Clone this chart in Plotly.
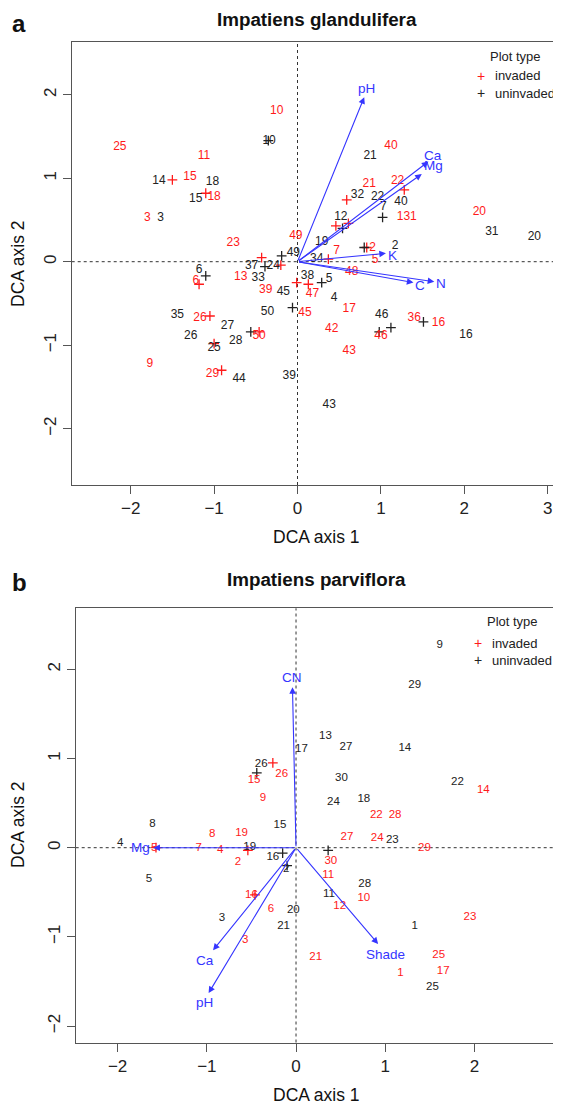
import plotly.graph_objects as go

# The page body adds an 8px margin; the figure is sized so that it fills the window.
OFF = 8
W, H = 561 - OFF, 1108 - OFF

# ---------------- Panel a: Impatiens glandulifera ----------------
a_red_labels = [
    ("10", -0.25, 1.81), ("25", -2.13, 1.37), ("11", -1.12, 1.26), ("15", -1.29, 1.01),
    ("18", -1.00, 0.77), ("3", -1.80, 0.52), ("23", -0.77, 0.23), ("49", -0.02, 0.31),
    ("40", 1.12, 1.39), ("21", 0.86, 0.93), ("22", 1.20, 0.97), ("1", 1.23, 0.54),
    ("31", 1.35, 0.54), ("20", 2.18, 0.60), ("7", 0.47, 0.13), ("2", 0.90, 0.16),
    ("5", 0.93, 0.02), ("48", 0.65, -0.12), ("13", -0.68, -0.18), ("6", -1.22, -0.23),
    ("39", -0.38, -0.34), ("47", 0.18, -0.39), ("45", 0.09, -0.61), ("17", 0.62, -0.57),
    ("42", 0.41, -0.80), ("46", 1.00, -0.89), ("36", 1.40, -0.68), ("16", 1.69, -0.73),
    ("43", 0.62, -1.07), ("26", -1.17, -0.68), ("50", -0.46, -0.89), ("9", -1.77, -1.23),
    ("29", -1.02, -1.34),
]
a_black_labels = [
    ("10", -0.34, 1.45), ("14", -1.66, 0.97), ("18", -1.02, 0.95), ("15", -1.22, 0.75),
    ("3", -1.64, 0.52), ("49", -0.05, 0.11), ("21", 0.87, 1.26), ("32", 0.72, 0.80),
    ("22", 0.96, 0.77), ("7", 1.03, 0.66), ("40", 1.24, 0.72), ("12", 0.52, 0.54),
    ("31", 2.33, 0.35), ("20", 2.84, 0.30), ("19", 0.29, 0.24), ("2", 1.17, 0.19),
    ("34", 0.23, 0.03), ("37", -0.55, -0.05), ("24", -0.29, -0.05), ("33", -0.47, -0.19),
    ("6", -1.18, -0.10), ("38", 0.12, -0.17), ("5", 0.38, -0.21), ("45", -0.17, -0.36),
    ("4", 0.44, -0.44), ("50", -0.36, -0.60), ("46", 1.01, -0.64), ("16", 2.02, -0.88),
    ("35", -1.44, -0.64), ("27", -0.84, -0.77), ("26", -1.28, -0.89), ("25", -1.00, -1.03),
    ("28", -0.74, -0.95), ("44", -0.70, -1.41), ("39", -0.10, -1.37), ("43", 0.38, -1.72),
]
a_red_pts_x = [-1.50, -1.10, -0.43, -0.20, 1.28, 0.59, 0.46, 0.61, 0.83, 0.37, -1.18, -0.01, 0.13, -1.05, -1.00, -0.46, -0.91]
a_red_pts_y = [0.98, 0.82, 0.05, -0.04, 0.86, 0.74, 0.43, 0.46, 0.17, 0.03, -0.27, -0.25, -0.27, -0.65, -0.98, -0.84, -1.30]
a_black_pts_x = [-0.35, -0.19, -0.39, 1.02, 0.54, 0.80, -1.10, 0.29, -0.06, 1.12, 0.98, 1.51, -0.56]
a_black_pts_y = [1.45, 0.07, -0.06, 0.53, 0.40, 0.17, -0.17, -0.25, -0.55, -0.79, -0.84, -0.72, -0.84]
# vector name, tip x, tip y, label x, label y
a_vectors = [
    ("pH", 0.80, 1.97, 0.83, 2.08), ("Ca", 1.57, 1.20, 1.62, 1.27),
    ("Mg", 1.49, 1.05, 1.63, 1.15), ("K", 1.06, 0.10, 1.14, 0.08),
    ("C", 1.39, -0.25, 1.47, -0.29), ("N", 1.64, -0.24, 1.72, -0.26),
]
a_xticks = [-2, -1, 0, 1, 2, 3]
a_yticks = [-2, -1, 0, 1, 2]

# ---------------- Panel b: Impatiens parviflora ----------------
b_red_labels = [
    ("26", -0.16, 0.83), ("15", -0.47, 0.76), ("9", -0.37, 0.56), ("14", 2.10, 0.64),
    ("22", 0.90, 0.36), ("28", 1.11, 0.36), ("27", 0.57, 0.12), ("24", 0.91, 0.11),
    ("29", 1.44, 0.00), ("30", 0.39, -0.15), ("11", 0.36, -0.31), ("10", 0.76, -0.56),
    ("12", 0.49, -0.66), ("6", -0.28, -0.69), ("23", 1.95, -0.78), ("21", 0.22, -1.23),
    ("25", 1.60, -1.21), ("1", 1.17, -1.41), ("17", 1.65, -1.38), ("5", -1.59, 0.00),
    ("8", -0.94, 0.15), ("19", -0.61, 0.16), ("7", -1.09, 0.00), ("4", -0.85, -0.03),
    ("2", -0.65, -0.16), ("16", -0.50, -0.53), ("3", -0.57, -1.04),
]
b_black_labels = [
    ("9", 1.61, 2.27), ("29", 1.33, 1.82), ("13", 0.33, 1.25), ("17", 0.06, 1.11),
    ("27", 0.56, 1.13), ("14", 1.22, 1.12), ("26", -0.39, 0.94), ("30", 0.51, 0.78),
    ("22", 1.81, 0.74), ("24", 0.42, 0.51), ("18", 0.76, 0.55), ("23", 1.08, 0.09),
    ("15", -0.18, 0.25), ("16", -0.26, -0.11), ("2", -0.11, -0.24), ("28", 0.77, -0.41),
    ("11", 0.37, -0.52), ("20", -0.03, -0.70), ("21", -0.14, -0.88), ("1", 1.33, -0.88),
    ("25", 1.53, -1.56), ("8", -1.61, 0.26), ("4", -1.97, 0.05), ("5", -1.65, -0.35),
    ("19", -0.52, 0.01), ("3", -0.83, -0.79),
]
b_red_pts_x = [-0.26, -0.54, -0.46, -1.57]
b_red_pts_y = [0.95, -0.03, -0.53, 0.00]
b_black_pts_x = [-0.44, 0.36, -0.15, -0.10]
b_black_pts_y = [0.84, -0.03, -0.06, -0.20]
b_vectors = [
    ("CN", -0.04, 1.80, -0.04, 1.91), ("Mg", -1.60, 0.00, -1.74, 0.00),
    ("Ca", -0.93, -1.15, -1.02, -1.26), ("pH", -0.98, -1.63, -1.03, -1.74),
    ("Shade", 0.92, -1.08, 1.00, -1.20),
]
b_xticks = [-2, -1, 0, 1, 2]
b_yticks = [-2, -1, 0, 1, 2]

legend_title = "Plot type"
legend_names = ["invaded", "uninvaded"]

RED = "#ff1a1a"
BLACK = "#222222"
BLUE = "#3535ff"
AXC = "#555555"
FONT = "Liberation Sans, Arial, sans-serif"


def px_x(p):
    return (p - OFF) / W


def px_y(p):
    return 1 - (p - OFF) / H


fig = go.Figure()


def add_panel(xa, ya, red_labels, black_labels, rx, ry, bx, by, vectors, lab_size):
    fig.add_trace(go.Scatter(
        x=rx, y=ry, mode="markers", name=legend_names[0], xaxis=xa, yaxis=ya, showlegend=False,
        marker=dict(symbol="cross-thin", size=7, line=dict(color=RED, width=1.3)),
        hoverinfo="skip"))
    fig.add_trace(go.Scatter(
        x=bx, y=by, mode="markers", name=legend_names[1], xaxis=xa, yaxis=ya, showlegend=False,
        marker=dict(symbol="cross-thin", size=7, line=dict(color=BLACK, width=1.3)),
        hoverinfo="skip"))
    fig.add_trace(go.Scatter(
        x=[v[1] for v in red_labels], y=[v[2] for v in red_labels],
        text=[v[0] for v in red_labels], mode="text", xaxis=xa, yaxis=ya,
        textfont=dict(color=RED, size=lab_size, family=FONT), showlegend=False,
        hoverinfo="skip"))
    fig.add_trace(go.Scatter(
        x=[v[1] for v in black_labels], y=[v[2] for v in black_labels],
        text=[v[0] for v in black_labels], mode="text", xaxis=xa, yaxis=ya,
        textfont=dict(color=BLACK, size=lab_size, family=FONT), showlegend=False,
        hoverinfo="skip"))
    # dotted zero lines
    fig.add_shape(type="line", xref=xa, yref=ya + " domain", x0=0, x1=0, y0=0, y1=1,
                  line=dict(color="#333333", width=1, dash="dot"), layer="below")
    fig.add_shape(type="line", xref=xa + " domain", yref=ya, x0=0, x1=1, y0=0, y1=0,
                  line=dict(color="#333333", width=1, dash="dot"), layer="below")
    # vectors
    for name, tx, ty, lx, ly in vectors:
        fig.add_annotation(x=tx, y=ty, ax=0, ay=0, xref=xa, yref=ya, axref=xa, ayref=ya,
                           text="", showarrow=True, arrowhead=2, arrowsize=1.2,
                           arrowwidth=1.1, arrowcolor=BLUE, standoff=0, startstandoff=0)
        fig.add_annotation(x=lx, y=ly, xref=xa, yref=ya, text=name, showarrow=False,
                           font=dict(color=BLUE, size=13.5, family=FONT))


add_panel("x", "y", a_red_labels, a_black_labels, a_red_pts_x, a_red_pts_y,
          a_black_pts_x, a_black_pts_y, a_vectors, 12)
add_panel("x2", "y2", b_red_labels, b_black_labels, b_red_pts_x, b_red_pts_y,
          b_black_pts_x, b_black_pts_y, b_vectors, 11.5)

axis_common = dict(showgrid=False, zeroline=False, showline=True, mirror=True,
                   linecolor=AXC, linewidth=1, ticks="outside", ticklen=8, tickcolor=AXC,
                   tickfont=dict(size=17, color=BLACK, family=FONT))

fig.update_layout(
    width=W, height=H, margin=dict(l=0, r=0, t=0, b=0),
    paper_bgcolor="white", plot_bgcolor="white",
    font=dict(family=FONT, color=BLACK), showlegend=False,
    xaxis=dict(domain=[px_x(71.7), px_x(557)], range=[-2.707, 3.111], tickvals=a_xticks,
               anchor="y", **axis_common),
    yaxis=dict(domain=[px_y(485), px_y(42)], range=[-2.674, 2.631], tickvals=a_yticks,
               tickangle=-90, anchor="x", **axis_common),
    xaxis2=dict(domain=[px_x(75.7), px_x(559)], range=[-2.470, 2.948], tickvals=b_xticks,
                anchor="y2", **axis_common),
    yaxis2=dict(domain=[px_y(1042.5), px_y(608.3)], range=[-2.184, 2.684], tickvals=b_yticks,
                tickangle=-90, anchor="x2", **axis_common),
)


def note(t, x, y, s, color="#111111", xanchor="center", angle=0):
    fig.add_annotation(x=px_x(x), y=px_y(y), xref="paper", yref="paper", showarrow=False,
                       text=t, xanchor=xanchor, yanchor="middle", textangle=angle,
                       font=dict(size=s, color=color, family=FONT))


# panel letters, titles, axis titles
note("<b>a</b>", 19, 24, 24)
note("<b>Impatiens glandulifera</b>", 317, 19, 18.8)
note("DCA axis 1", 316, 537, 17.5)
note("DCA axis 2", 18, 264, 17.5, angle=-90)
note("<b>b</b>", 19, 582, 24)
note("<b>Impatiens parviflora</b>", 316, 579, 18.8)
note("DCA axis 1", 316, 1095, 17.5)
note("DCA axis 2", 18, 825, 17.5, angle=-90)

# legends (title, symbol + label rows)
for (tx, ty, sx, lx, y1, y2) in [(515, 56, 481, 492.5, 76, 93), (512, 621, 478, 489.5, 643, 660)]:
    note(legend_title, tx, ty, 13, color=BLACK)
    note("+", sx, y1, 14, color=RED)
    note(legend_names[0], lx, y1, 13, color=BLACK, xanchor="left")
    note("+", sx, y2, 14, color=BLACK)
    note(legend_names[1], lx, y2, 13, color=BLACK, xanchor="left")

fig.write_html("out.html")
